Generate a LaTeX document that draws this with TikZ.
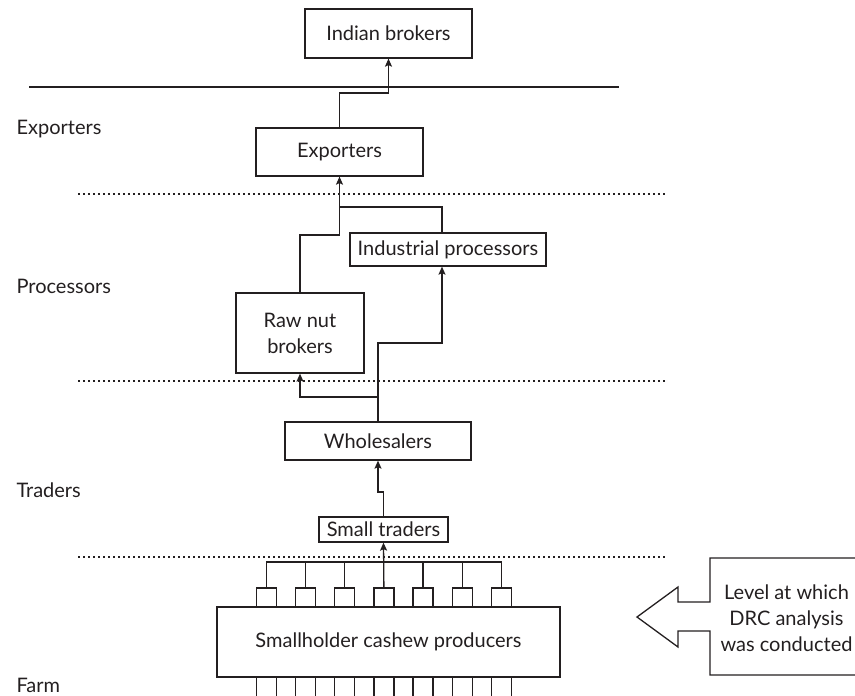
\documentclass[tikz,border=0pt]{standalone}
\usepackage{fontspec}
\setmainfont{Lato}
\usetikzlibrary{arrows.meta,calc}
\definecolor{ink}{HTML}{231F20}
\begin{document}
\begin{tikzpicture}[x=1pt,y=-1pt,
  every node/.style={font=\fontsize{20}{26}\selectfont, text=ink},
  box/.style={draw=ink, line width=1.3pt, inner sep=0pt, align=center},
  link/.style={draw=ink, line width=1.3pt},
  arr/.style={link, -{Stealth[length=8pt,width=7pt,inset=1.5pt]}},
  tier/.style={anchor=base west},
  divider/.style={draw=ink, line width=2pt, dash pattern=on 2.4pt off 2.6pt},
  stub/.style={box, minimum width=20pt},
]
\useasboundingbox (0,0) rectangle (855,696);
\clip (0,0) rectangle (855,696);

% tier labels
\node[tier] (lex) at (13,134) {Exporters};
\node[tier] (lpr) at (13,293) {Processors};
\node[tier] (ltr) at (13,497) {Traders};
\node[tier] (lfa) at (13,692) {Farm};

% border and tier dividers
\draw[ink, line width=2pt] (29,87) -- (619,87);
\draw[divider] (78,194) -- (666,194);
\draw[divider] (78,381) -- (666,381);
\draw[divider] (78,557) -- (666,557);

% chain actors
\node[box, minimum width=167pt, minimum height=49pt] (ib) at (388.5,33.5) {Indian brokers};
\node[box, minimum width=167pt, minimum height=48pt] (ex) at (339.5,152) {Exporters};
\node[box, minimum width=196pt, minimum height=33pt] (ip) at (448,249.5) {Industrial processors};
\node[box, minimum width=128pt, minimum height=80pt] (rnb) at (300,333) {Raw nut\\brokers};
\node[box, minimum width=186pt, minimum height=38pt] (wh) at (378,441) {Wholesalers};
\node[box, minimum width=129pt, minimum height=25pt] (st) at (383.5,529.5) {Small traders};
\node[box, minimum width=343pt, minimum height=70pt] (farm) at (388.5,642) {Smallholder cashew producers};

% individual farms above and below the producers box
\foreach \i in {0,...,6}{
  \node[stub, minimum height=19pt] (t\i) at ({266.3+39.2*\i},597.5) {};
  \node[stub, minimum height=33pt] (b\i) at ({266.3+39.2*\i},693.5) {};
}

% collection rail from the farms
\coordinate (rail) at (0,562);
\foreach \i in {0,1,2,4,5,6}{
  \draw[link] (t\i.north) -- (t\i.north |- rail);
}
\draw[link] (t0.north |- rail) -- (t6.north |- rail);
\draw[arr] (t3.north) -- (st.south);

% trade flows
\coordinate (ipin) at (442,0);
\draw[arr] (st.north) -- (st.north |- 0,492) -- (wh.south |- 0,492) -- (wh.south);
\draw[arr] (wh.north) -- (wh.north |- 0,397) -- (rnb.south |- 0,397) -- (rnb.south);
\draw[arr] (wh.north) -- (wh.north |- 0,343) -- (ipin |- 0,343) -- (ip.south -| ipin);
\draw[arr] (rnb.north) -- (rnb.north |- 0,235) -- (ex.south |- 0,235) -- (ex.south);
\draw[link] (ip.north -| ipin) -- (ipin |- 0,207) -- (ex.south |- 0,207);
\draw[arr] (ex.north) -- (ex.north |- 0,93) -- (ib.south |- 0,93) -- (ib.south);

% analysis-level pointer
\draw[link] (860,558) -- (710,558) -- (710,602) -- (678,602) -- (678,587)
  -- (637,617) -- (678,647) -- (678,631) -- (710,631) -- (710,675) -- (860,675);
\node[align=center] (drc) at (786.5,618) {Level at which\\DRC analysis\\was conducted};
\end{tikzpicture}
\end{document}
